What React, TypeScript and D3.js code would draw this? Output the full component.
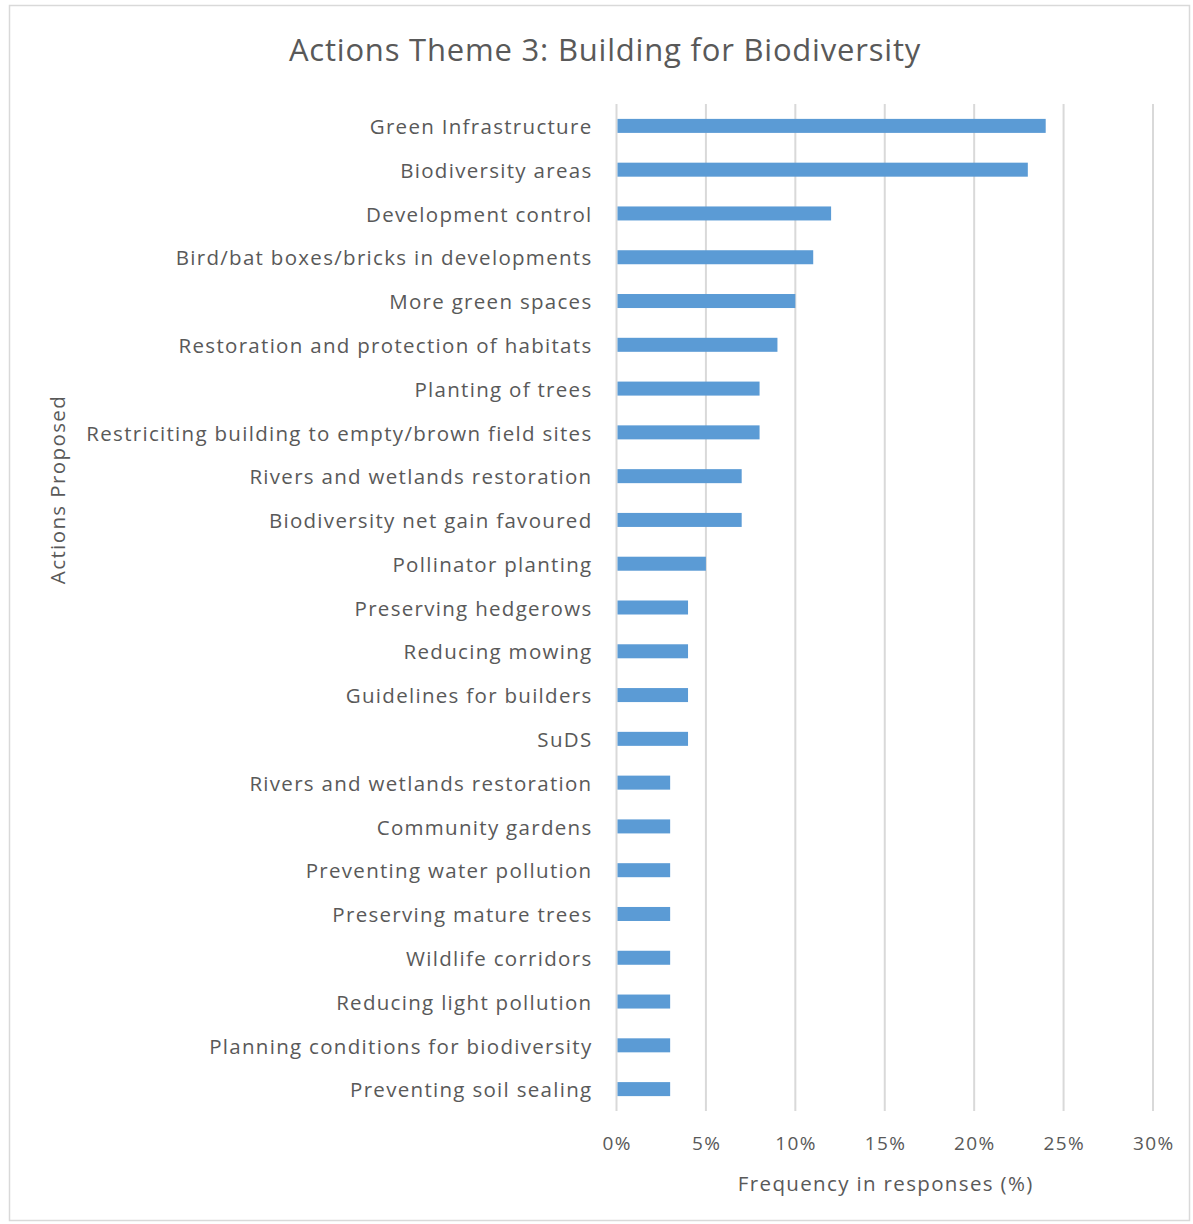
import React, { useEffect, useRef } from 'react';
import * as d3 from 'd3';

const categories = [
  'Green Infrastructure',
  'Biodiversity areas',
  'Development control',
  'Bird/bat boxes/bricks in developments',
  'More green spaces',
  'Restoration and protection of habitats',
  'Planting of trees',
  'Restriciting building to empty/brown field sites',
  'Rivers and wetlands restoration',
  'Biodiversity net gain favoured',
  'Pollinator planting',
  'Preserving hedgerows',
  'Reducing mowing',
  'Guidelines for builders',
  'SuDS',
  'Rivers and wetlands restoration ',
  'Community gardens',
  'Preventing water pollution',
  'Preserving mature trees',
  'Wildlife corridors',
  'Reducing light pollution',
  'Planning conditions for biodiversity',
  'Preventing soil sealing',
];

const values = [24, 23, 12, 11, 10, 9, 8, 8, 7, 7, 5, 4, 4, 4, 4, 3, 3, 3, 3, 3, 3, 3, 3];

const xTicks = [0, 5, 10, 15, 20, 25, 30];

const WIDTH = 1193;
const HEIGHT = 1224;
const PLOT = { left: 616.5, right: 1153, top: 104, bottom: 1111 };
const FONT = '"Open Sans", "Noto Sans", sans-serif';
const TEXT = '#595959';

const App: React.FC = () => {
  const svgRef = useRef<SVGSVGElement>(null);

  useEffect(() => {
    const svg = d3.select(svgRef.current);
    svg.selectAll('*').remove();

    svg.append('rect')
      .attr('x', 9.5).attr('y', 5.5)
      .attr('width', WIDTH - 13).attr('height', HEIGHT - 9)
      .attr('fill', '#fff')
      .attr('stroke', '#d9d9d9')
      .attr('stroke-width', 1.5);

    const x = d3.scaleLinear().domain([0, 30]).range([PLOT.left, PLOT.right]);
    const y = d3.scaleBand<string>()
      .domain(categories)
      .range([PLOT.top, PLOT.bottom])
      .paddingInner(0.68)
      .paddingOuter(0.34);

    // gridlines
    svg.append('g')
      .selectAll('line')
      .data(xTicks)
      .enter().append('line')
      .attr('x1', d => x(d)).attr('x2', d => x(d))
      .attr('y1', PLOT.top).attr('y2', PLOT.bottom)
      .attr('stroke', '#d9d9d9')
      .attr('stroke-width', 2);

    // bars
    svg.append('g')
      .selectAll('rect')
      .data(categories)
      .enter().append('rect')
      .attr('x', x(0) + 1)
      .attr('y', d => y(d)!)
      .attr('width', (d, i) => x(values[i]) - x(0) - 1)
      .attr('height', y.bandwidth())
      .attr('fill', '#5b9bd5');

    // category labels
    svg.append('g')
      .selectAll('text')
      .data(categories)
      .enter().append('text')
      .attr('x', PLOT.left - 24)
      .attr('y', d => y(d)! + y.bandwidth() / 2 + 1)
      .attr('dy', '0.35em')
      .attr('text-anchor', 'end')
      .style('font-family', FONT)
      .style('font-size', '20.5px')
      .style('letter-spacing', '1.3px')
      .style('fill', TEXT)
      .text(d => d.trim());

    // x tick labels
    svg.append('g')
      .selectAll('text')
      .data(xTicks)
      .enter().append('text')
      .attr('x', d => x(d) + 0.7)
      .attr('y', 1143)
      .attr('dy', '0.35em')
      .attr('text-anchor', 'middle')
      .style('font-family', FONT)
      .style('font-size', '19px')
      .style('letter-spacing', '1.4px')
      .style('fill', TEXT)
      .text(d => `${d}%`);

    // axis titles
    svg.append('text')
      .attr('x', (PLOT.left + PLOT.right) / 2 + 1)
      .attr('y', 1184)
      .attr('dy', '0.35em')
      .attr('text-anchor', 'middle')
      .style('font-family', FONT)
      .style('font-size', '20.5px')
      .style('letter-spacing', '1.35px')
      .style('fill', TEXT)
      .text('Frequency in responses (%)');

    svg.append('text')
      .attr('transform', `translate(58,${(PLOT.top + PLOT.bottom) / 2 - 118}) rotate(-90)`)
      .attr('dy', '0.35em')
      .attr('text-anchor', 'middle')
      .style('font-family', FONT)
      .style('font-size', '20.5px')
      .style('letter-spacing', '1.4px')
      .style('fill', TEXT)
      .text('Actions Proposed');

    // title
    svg.append('text')
      .attr('x', 605)
      .attr('y', 50)
      .attr('dy', '0.35em')
      .attr('text-anchor', 'middle')
      .style('font-family', FONT)
      .style('font-size', '31px')
      .style('letter-spacing', '0.8px')
      .style('fill', TEXT)
      .text('Actions Theme 3: Building for Biodiversity');
  }, []);

  return (
    <svg
      ref={svgRef}
      width={WIDTH}
      height={HEIGHT}
      style={{ position: 'absolute', left: 0, top: 0, display: 'block' }}
    />
  );
};

export default App;
